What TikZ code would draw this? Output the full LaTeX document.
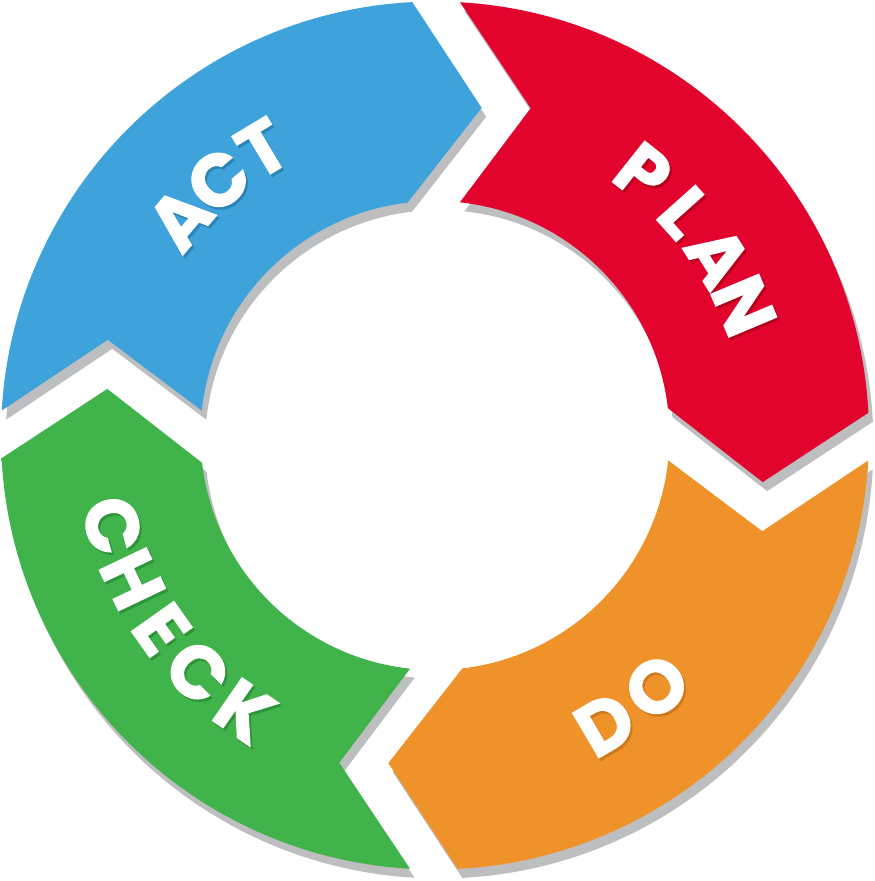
\documentclass[tikz,border=0pt]{standalone}
\usepackage{fontspec}
\newfontfamily\pdcafont{Poppins}[BoldFeatures={FakeBold=1.6}]
\definecolor{redD}{HTML}{E3042D}
\definecolor{redL}{HTML}{EA3355}
\definecolor{redS}{HTML}{B8001F}
\definecolor{blueD}{HTML}{3EA3DB}
\definecolor{blueL}{HTML}{55B6E9}
\definecolor{blueS}{HTML}{2A84B8}
\definecolor{greenD}{HTML}{40B44A}
\definecolor{greenL}{HTML}{58C05A}
\definecolor{greenS}{HTML}{2E9438}
\definecolor{orangeD}{HTML}{EF9229}
\definecolor{orangeL}{HTML}{F5A641}
\definecolor{orangeS}{HTML}{CF781C}
\definecolor{shadowgray}{HTML}{BDBEC0}
\pgfdeclareradialshading{redring}{\pgfpoint{0bp}{0bp}}{color(0bp)=(redD); color(27bp)=(redD); color(38.5bp)=(redL); color(50bp)=(redD)}
\pgfdeclareradialshading{bluering}{\pgfpoint{0bp}{0bp}}{color(0bp)=(blueD); color(27bp)=(blueD); color(38.5bp)=(blueL); color(50bp)=(blueD)}
\pgfdeclareradialshading{greenring}{\pgfpoint{0bp}{0bp}}{color(0bp)=(greenD); color(27bp)=(greenD); color(38.5bp)=(greenL); color(50bp)=(greenD)}
\pgfdeclareradialshading{orangering}{\pgfpoint{0bp}{0bp}}{color(0bp)=(orangeD); color(27bp)=(orangeD); color(38.5bp)=(orangeL); color(50bp)=(orangeD)}
\tikzset{
  letter/.style={inner sep=0pt, text=white, font=\pdcafont\bfseries\fontsize{74}{74}\selectfont},
  lettershadow/.style={letter, xshift=2pt, yshift=-2.5pt}
}
\begin{document}
\begin{tikzpicture}
\useasboundingbox (-435pt,-445.5pt) rectangle (440pt,435.5pt);
\fill[white] (-435pt,-445.5pt) rectangle (440pt,435.5pt);
% shadows
\foreach \rot in {0,-90,-180,-270}{
  \fill[shadowgray, shift={(4.5pt,-9pt)}, rotate=\rot]
    (86.7:434pt) arc[start angle=86.7, end angle=3, radius=434pt]
    -- (-8.1:331pt) -- (6.7:234.5pt)
    arc[start angle=6.7, end angle=83.9, radius=234.5pt]
    -- (73.7:341pt) -- cycle;
}
% segments
\foreach \rot/\cname in {0/red,-90/orange,-180/green,-270/blue}{
  \begin{scope}
    \clip[rotate=\rot]
      (86.7:434pt) arc[start angle=86.7, end angle=3, radius=434pt]
      -- (-8.1:331pt) -- (6.7:234.5pt)
      arc[start angle=6.7, end angle=83.9, radius=234.5pt]
      -- (73.7:341pt) -- cycle;
    \shade[shading=\cname ring] (0,0) circle (434pt);
  \end{scope}
}
% PLAN
\foreach \a/\l [count=\i, evaluate=\a as \r using \a-90] in {51.6/P,41.8/L,32.3/A,22.8/N}{
  \node[lettershadow, text=redS, rotate=\r] (plans\i) at (\a:335pt) {\l};
  \node[letter, rotate=\r] (plan\i) at (\a:335pt) {\l};
}
% ACT
\foreach \a/\l [count=\i, evaluate=\a as \r using \a-90] in {139.6/A,130.3/C,121.0/T}{
  \node[lettershadow, text=blueS, rotate=\r] (acts\i) at (\a:335pt) {\l};
  \node[letter, rotate=\r] (act\i) at (\a:335pt) {\l};
}
% CHECK
\foreach \a/\l [count=\i, evaluate=\a as \r using \a+90] in {195.6/C,205.4/H,215.3/E,224.9/C,235.4/K}{
  \node[lettershadow, text=greenS, rotate=\r] (checks\i) at (\a:335pt) {\l};
  \node[letter, rotate=\r] (check\i) at (\a:335pt) {\l};
}
% DO
\foreach \a/\l [count=\i, evaluate=\a as \r using \a+90] in {300.5/D,311.4/O}{
  \node[lettershadow, text=orangeS, rotate=\r] (dos\i) at (\a:335pt) {\l};
  \node[letter, rotate=\r] (do\i) at (\a:335pt) {\l};
}
\end{tikzpicture}
\end{document}
